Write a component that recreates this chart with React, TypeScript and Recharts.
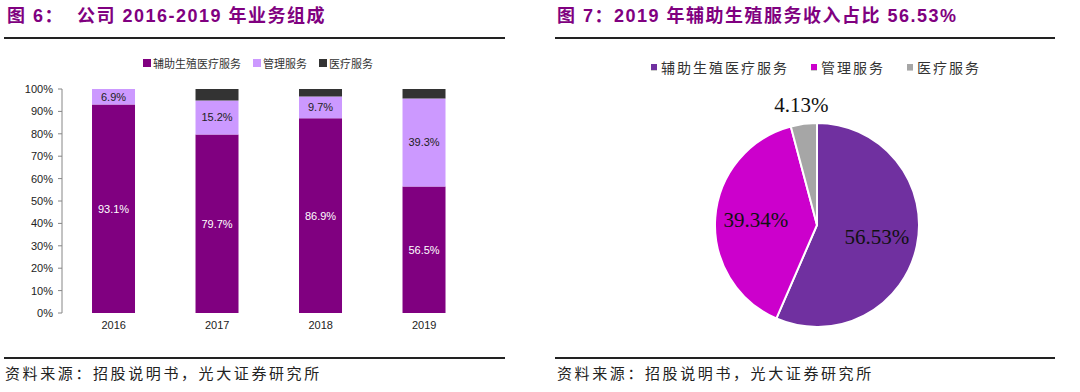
import { BarChart, Bar, XAxis, YAxis, LabelList, PieChart, Pie, Cell } from "recharts";

const years = ["2016", "2017", "2018", "2019"];
const artShare = [93.1, 79.7, 86.9, 56.5];
const mgmtShare = [6.9, 15.2, 9.7, 39.3];
const medShare = [0, 5.1, 3.4, 4.2];
const yTicks = [0, 10, 20, 30, 40, 50, 60, 70, 80, 90, 100];
const edgeTicks = [0, 1, 2, 3, 4];

const seriesNames = ["辅助生殖医疗服务", "管理服务", "医疗服务"];
const barColors = ["#800080", "#CC99FF", "#333333"];

const pieValues = [56.53, 39.34, 4.13];
const pieColors = ["#7030A0", "#CC00CC", "#A6A6A6"];

const RADIAN = Math.PI / 180;
const sans = '"Liberation Sans", Arial, "Noto Sans CJK SC", sans-serif';
const serif = '"Liberation Serif", "Times New Roman", "Noto Sans CJK SC", serif';
const cjk = '"Noto Sans CJK SC", sans-serif';

function Title({ left, text }: { left: number; text: string }) {
  return (
    <div
      style={{
        position: "absolute",
        left,
        top: 4,
        fontFamily: '"Liberation Sans", "Noto Sans CJK SC", sans-serif',
        fontWeight: 700,
        fontSize: 18,
        letterSpacing: 1.5,
        color: "#800080",
        whiteSpace: "pre",
        lineHeight: "24px"
      }}
    >
      {text}
    </div>
  );
}

function Rule({ left, top, width }: { left: number; top: number; width: number }) {
  return <div style={{ position: "absolute", left, top, width, height: 2, background: "#222" }} />;
}

function Source({ left }: { left: number }) {
  return (
    <div
      style={{
        position: "absolute",
        left,
        top: 362,
        fontFamily: cjk,
        fontSize: 15,
        letterSpacing: 2.6,
        color: "#222",
        lineHeight: "22px",
        whiteSpace: "pre"
      }}
    >
      资料来源：招股说明书，光大证券研究所
    </div>
  );
}

function PieLabel(props: any) {
  const { cx, cy, midAngle, outerRadius, index, value } = props;
  const r = index === 2 ? outerRadius + 19 : outerRadius * 0.6;
  const x = cx + r * Math.cos(-midAngle * RADIAN);
  const y = cy + r * Math.sin(-midAngle * RADIAN);
  return (
    <text
      x={x}
      y={y}
      textAnchor="middle"
      dominantBaseline="central"
      fill="#111"
      fontSize={21}
      fontFamily={serif}
    >
      {value.toFixed(2)}%
    </text>
  );
}

export default function App() {
  const barData = years.map((year, i) => ({
    year,
    art: artShare[i],
    mgmt: mgmtShare[i],
    med: medShare[i],
    slot: i + 0.5
  }));
  const pieData = seriesNames.map((name, i) => ({ name, value: pieValues[i] }));

  return (
    <div style={{ position: "relative", width: 1080, height: 392, background: "#fff", overflow: "hidden" }}>
      <style>{"body{margin:0}"}</style>

      <Title left={7} text={"图 6：  公司 2016-2019 年业务组成"} />
      <Rule left={4} top={37} width={501} />
      <Title left={557} text={"图 7：2019 年辅助生殖服务收入占比 56.53%"} />
      <Rule left={555} top={37} width={500} />

      {/* bar legend */}
      <div
        style={{
          position: "absolute",
          left: 143,
          top: 55,
          display: "flex",
          alignItems: "center",
          fontFamily: cjk,
          fontSize: 11,
          color: "#333",
          lineHeight: "16px"
        }}
      >
        {seriesNames.map((n, i) => (
          <span key={n} style={{ display: "inline-flex", alignItems: "center", marginRight: 12 }}>
            <span style={{ width: 8, height: 8, background: barColors[i], marginRight: 2 }} />
            {n}
          </span>
        ))}
      </div>

      <div style={{ position: "absolute", left: 0, top: 0 }}>
        <BarChart
          width={540}
          height={340}
          data={barData}
          margin={{ top: 89, right: 64, left: 22, bottom: 3 }}
          barCategoryGap="29%"
        >
          <XAxis
            xAxisId="edge"
            dataKey="slot"
            type="number"
            domain={[0, 4]}
            ticks={edgeTicks}
            height={0}
            tickFormatter={() => ""}
            tickSize={5}
            stroke="#868686"
          />
          <XAxis
            xAxisId="cat"
            dataKey="year"
            height={24}
            axisLine={false}
            tickLine={false}
            tickSize={6}
            tickMargin={2}
            tick={{ fontSize: 11, fill: "#222", fontFamily: sans }}
          />
          <YAxis
            width={40}
            domain={[0, 100]}
            ticks={yTicks}
            tickFormatter={(v: number) => `${v}%`}
            tickSize={4}
            tickMargin={5}
            stroke="#868686"
            tick={{ fontSize: 11, fill: "#222", fontFamily: sans }}
            interval={0}
          />
          <Bar xAxisId="cat" dataKey="art" stackId="a" fill={barColors[0]} isAnimationActive={false}>
            <LabelList
              dataKey="art"
              position="center"
              formatter={(v: any) => `${v}%`}
              fill="#fff"
              fontSize={11}
              fontFamily={sans}
            />
          </Bar>
          <Bar xAxisId="cat" dataKey="mgmt" stackId="a" fill={barColors[1]} isAnimationActive={false}>
            <LabelList
              dataKey="mgmt"
              position="center"
              formatter={(v: any) => `${v}%`}
              fill="#222"
              fontSize={11}
              fontFamily={sans}
            />
          </Bar>
          <Bar xAxisId="cat" dataKey="med" stackId="a" fill={barColors[2]} isAnimationActive={false} />
        </BarChart>
      </div>

      {/* pie legend */}
      <div
        style={{
          position: "absolute",
          left: 651,
          top: 57,
          display: "flex",
          alignItems: "center",
          fontFamily: cjk,
          fontSize: 14,
          letterSpacing: 2,
          color: "#333",
          lineHeight: "20px"
        }}
      >
        {seriesNames.map((n, i) => (
          <span key={n} style={{ display: "inline-flex", alignItems: "center", marginRight: 22 }}>
            <span style={{ width: 6, height: 6, background: pieColors[i], marginRight: 4, borderBottom: "1px solid #ccc" }} />
            {n}
          </span>
        ))}
      </div>

      <div style={{ position: "absolute", left: 540, top: 0 }}>
        <PieChart width={540} height={340} margin={{ top: 0, right: 0, bottom: 0, left: 0 }}>
          <Pie
            data={pieData}
            dataKey="value"
            nameKey="name"
            cx={277}
            cy={225}
            outerRadius={102}
            startAngle={90}
            endAngle={-270}
            stroke="#fff"
            strokeWidth={2}
            label={PieLabel}
            labelLine={false}
            isAnimationActive={false}
          >
            {pieData.map((d, i) => (
              <Cell key={d.name} fill={pieColors[i]} />
            ))}
          </Pie>
        </PieChart>
      </div>

      <Rule left={4} top={357} width={501} />
      <Source left={5} />
      <Rule left={555} top={357} width={500} />
      <Source left={557} />
    </div>
  );
}
